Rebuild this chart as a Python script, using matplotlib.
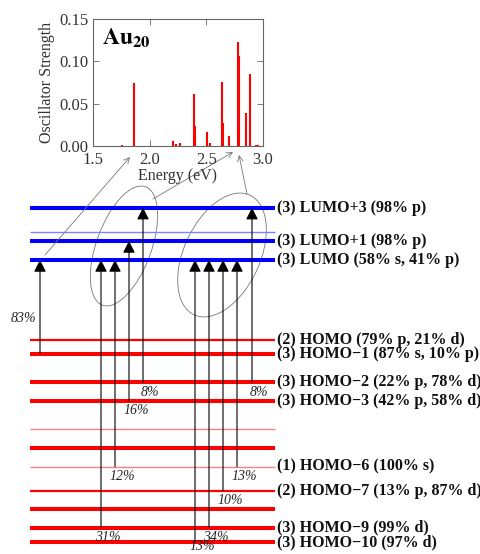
import numpy as np
import matplotlib.pyplot as plt
from matplotlib.patches import Ellipse

plt.rcParams['font.family'] = ['Liberation Serif', 'DejaVu Serif']
plt.rcParams['mathtext.fontset'] = 'stix'

# Oscillator strengths of the Au20 spectrum (energy in eV).
energy = [1.76, 1.86, 2.21, 2.235, 2.27, 2.39, 2.40, 2.51, 2.535,
          2.635, 2.647, 2.70, 2.776, 2.788, 2.85, 2.888, 2.935, 2.96]
strength = [0.001, 0.074, 0.006, 0.002, 0.003, 0.062, 0.024, 0.016, 0.004,
            0.076, 0.027, 0.012, 0.123, 0.106, 0.039, 0.085, 0.001, 0.001]

# Orbital levels, top to bottom (diagram units, downwards), degeneracy and label.
level_y = [207.7, 231.7, 241, 260, 340, 353.7, 382.3, 401,
           429, 448, 466.7, 490.7, 509, 527.7, 542]
degeneracy = [3, 1, 3, 3, 2, 3, 3, 3, 1, 3, 1, 2, 3, 3, 3]
unoccupied = [True] * 4 + [False] * 11
level_labels = ['(3) LUMO+3 (98% p)', '', '(3) LUMO+1 (98% p)',
                '(3) LUMO (58% s, 41% p)', '(2) HOMO (79% p, 21% d)',
                '(3) HOMO\u22121 (87% s, 10% p)', '(3) HOMO\u22122 (22% p, 78% d)',
                '(3) HOMO\u22123 (42% p, 58% d)', '', '',
                '(1) HOMO\u22126 (100% s)', '(2) HOMO\u22127 (13% p, 87% d)', '',
                '(3) HOMO\u22129 (99% d)', '(3) HOMO\u221210 (97% d)']

# Transitions: (from level, to level, weight in %)
trans_from = [5, 13, 10, 7, 6, 14, 13, 11, 10, 6]
trans_to = [3, 3, 3, 2, 0, 3, 3, 3, 3, 0]
trans_weight = [83, 31, 12, 16, 8, 13, 34, 10, 13, 8]
trans_x = [40, 101, 115, 129, 143, 195, 209, 223, 237, 252]

fig = plt.figure(figsize=(4.81, 5.54), dpi=100)
ax = fig.add_axes([0, 0, 1, 1])
ax.set_xlim(0, 481)
ax.set_ylim(554, 0)
ax.axis('off')

widths = {1: 1.0, 2: 1.6, 3: 2.9}
for y, d, up, lab in zip(level_y, degeneracy, unoccupied, level_labels):
    if d == 1:
        col = '#8080ff' if up else '#ff8080'
    else:
        col = '#0000ff' if up else '#ff0000'
    ax.plot([30, 275], [y, y], color=col, lw=widths[d], solid_capstyle='butt')
    if lab:
        ax.text(277, y, lab, fontsize=11.5, fontweight='bold', va='center', ha='left',
                color='#111111')

for f, t, w, x in zip(trans_from, trans_to, trans_weight, trans_x):
    ax.annotate('', xy=(x, level_y[t]), xytext=(x, level_y[f]),
                arrowprops=dict(arrowstyle='-|>,head_length=0.55,head_width=0.28',
                                mutation_scale=13, lw=0.8, color='k',
                                shrinkA=0, shrinkB=0))
    if w == 83:
        lx, ly = 23, 318
    else:
        lx, ly = x + 7, min(level_y[f] + 10, 547)
    ax.text(lx, ly, f'{w}%', fontsize=10, style='italic', ha='center', va='center',
            color='#222222')

ax.add_patch(Ellipse((124, 246), 126, 55, angle=-70, fill=False, ec='#777777', lw=0.6))
ax.add_patch(Ellipse((222, 255), 132, 76, angle=-65, fill=False, ec='#777777', lw=0.6))

for start, tip in [((45, 255), (130, 157)), ((153, 199), (233, 152)), ((247, 194), (239, 155))]:
    ax.annotate('', xy=tip, xytext=start,
                arrowprops=dict(arrowstyle='->', lw=0.6, color='#777777',
                                shrinkA=0, shrinkB=0))

# Inset spectrum
ins = fig.add_axes([93 / 481, 1 - 146 / 554, 170 / 481, 127 / 554])
ins.vlines(energy, 0, strength, color='red', lw=1.5)
ins.set_xlim(1.5, 3.0)
ins.set_ylim(0, 0.15)
ins.set_xticks([1.5, 2.0, 2.5, 3.0])
ins.set_yticks([0, 0.05, 0.10, 0.15])
ins.set_yticklabels(['0.00', '0.05', '0.10', '0.15'])
ins.tick_params(direction='in', length=4, width=0.6, top=True, right=True,
                labelsize=12, color='#666666', labelcolor='#333333', pad=3)
ins.tick_params(axis='x', pad=4)
for s in ins.spines.values():
    s.set_color('#666666')
    s.set_linewidth(0.8)
ins.set_xlabel('Energy (eV)', fontsize=11.5, color='#333333', labelpad=0)
ins.set_ylabel('Oscillator Strength', fontsize=11.5, color='#333333', labelpad=3)
ins.text(0.05, 0.8, r'$\mathbf{Au}_{\mathbf{20}}$', transform=ins.transAxes, fontsize=17)

fig.savefig('out.png', dpi=100)
